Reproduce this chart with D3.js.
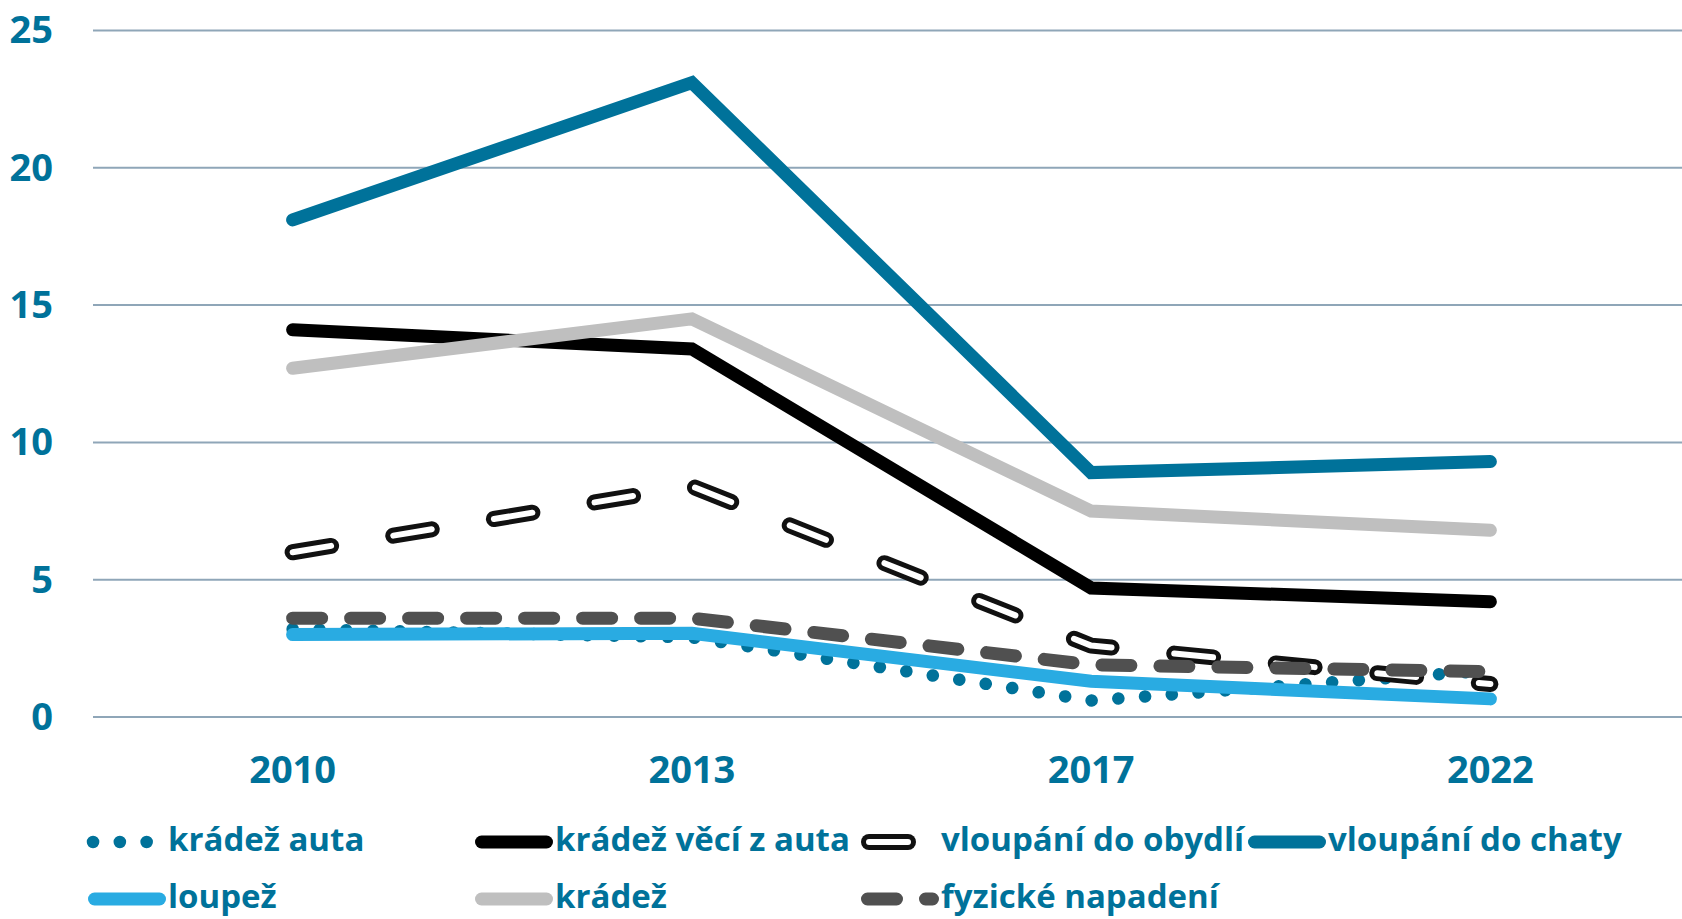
<!DOCTYPE html>
<html>
<head>
  <meta charset="utf-8">
  <title>Kriminalita</title>
  <script src="https://d3js.org/d3.v7.min.js"></script>
  <style>
    body { margin: 0; background: #fff; }
    text { font-family: "Open Sans", sans-serif; font-weight: 700; fill: #00729a; }
  </style>
</head>
<body>
<script>

var w = 1682, h = 919;

var years = ["2010", "2013", "2017", "2022"];
var yTicks = [0, 5, 10, 15, 20, 25];

// values per series
var kradezAuta = [3.2, 2.9, 0.6, 1.7];
var kradezVeciZAuta = [14.1, 13.4, 4.7, 4.2];
var vloupaniObydli = [6.0, 8.4, 2.6, 1.2];
var vloupaniChaty = [18.1, 23.1, 8.9, 9.3];
var loupez = [3.0, 3.05, 1.3, 0.66];
var kradez = [12.7, 14.5, 7.5, 6.8];
var fyzickeNapadeni = [3.6, 3.6, 1.9, 1.65];

var seriesNames = ["krádež auta", "krádež věcí z auta", "vloupání do obydlí", "vloupání do chaty",
                   "loupež", "krádež", "fyzické napadení"];
var seriesValues = [kradezAuta, kradezVeciZAuta, vloupaniObydli, vloupaniChaty, loupez, kradez, fyzickeNapadeni];

var teal = "#00729a";
var styles = [
  {type: "dots", color: teal, width: 12.5},
  {type: "solid", color: "#000000", width: 13},
  {type: "outline", color: "#111111", width: 16},
  {type: "solid", color: teal, width: 13},
  {type: "solid", color: "#29abe2", width: 13},
  {type: "solid", color: "#bfbfbf", width: 13},
  {type: "dash", color: "#505050", width: 13}
];

var svg = d3.select("body")
  .append("svg")
  .attr("width", w)
  .attr("height", h);

var x = d3.scalePoint()
  .domain(years)
  .range([93, 1690])
  .padding(0.5);

var y = d3.scaleLinear()
  .domain([0, 25])
  .range([717, 30.5]);

// grid
svg.selectAll(".grid")
  .data(yTicks)
  .enter()
  .append("line")
  .attr("x1", 93)
  .attr("x2", w)
  .attr("y1", function(d){ return y(d); })
  .attr("y2", function(d){ return y(d); })
  .attr("stroke", "#8fa6b8")
  .attr("stroke-width", 2);

svg.selectAll(".ylab")
  .data(yTicks)
  .enter()
  .append("text")
  .attr("x", 53)
  .attr("y", function(d){ return y(d); })
  .attr("dy", "0.34em")
  .attr("text-anchor", "end")
  .style("font-size", "38px")
  .text(function(d){ return d; });

svg.selectAll(".xlab")
  .data(years)
  .enter()
  .append("text")
  .attr("x", function(d){ return x(d); })
  .attr("y", 783)
  .attr("text-anchor", "middle")
  .style("font-size", "38px")
  .text(function(d){ return d; });

function applyStroke(sel, st) {
  sel.attr("fill", "none")
    .attr("stroke", st.color)
    .attr("stroke-width", st.width)
    .attr("stroke-linecap", "round")
    .attr("stroke-linejoin", st.type == "solid" ? "miter" : "round");
  if (st.type == "dots") sel.attr("stroke-dasharray", "0.1 26.7");
  if (st.type == "dash") sel.attr("stroke-dasharray", "29 29");
  if (st.type == "outline") sel.attr("stroke-dasharray", "39 63");
}

function drawLine(g, d, st) {
  var p = g.append("path").attr("d", d);
  applyStroke(p, st);
  if (st.type == "outline") {
    // white core on top of the dark dash gives the hollow look
    g.append("path").attr("d", d)
      .attr("fill", "none")
      .attr("stroke", "#fff")
      .attr("stroke-width", 6)
      .attr("stroke-linecap", "round")
      .attr("stroke-linejoin", "round")
      .attr("stroke-dasharray", "39 63");
  }
}

var line = d3.line()
  .x(function(d, i){ return x(years[i]); })
  .y(function(d){ return y(d); });

seriesValues.forEach(function(vals, i){
  drawLine(svg.append("g"), line(vals), styles[i]);
});

// legend
var legCols = [88, 475, 861, 1248];
var legRows = [842, 899];

seriesNames.forEach(function(name, i){
  var cx = legCols[i % 4], cy = legRows[Math.floor(i / 4)];
  var st = styles[i];
  var g = svg.append("g");
  var x0 = cx + st.width / 2, x1 = cx + 78 - st.width / 2;
  if (st.type == "dots") { x0 = cx + 5; x1 = cx + 60; }
  drawLine(g, "M" + x0 + "," + cy + "L" + x1 + "," + cy, st);
  g.append("text")
    .attr("x", cx + 80)
    .attr("y", cy + 9)
    .style("font-size", "33px")
    .text(name);
});

</script>
</body>
</html>
